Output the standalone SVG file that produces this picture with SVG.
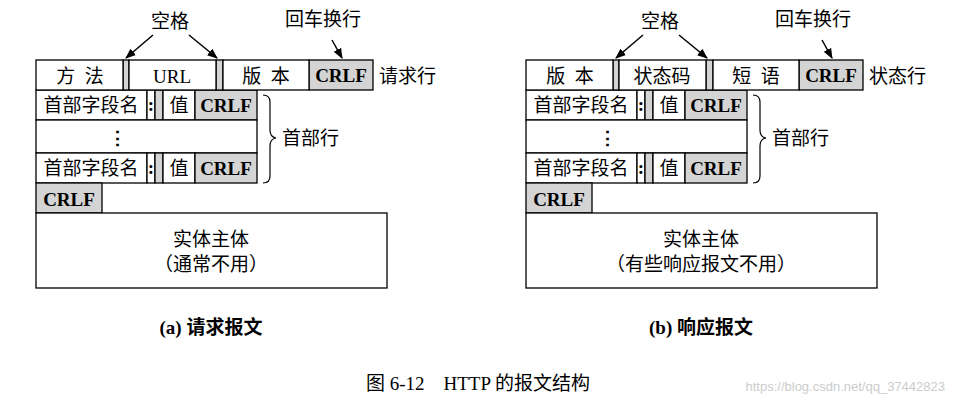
<svg xmlns="http://www.w3.org/2000/svg" width="956" height="404" viewBox="0 0 956 404">
<style>
.b{fill:#fff;stroke:#000;stroke-width:1.3}
.g{fill:#d4d4d4;stroke:#000;stroke-width:1.3}
text{font-family:"Liberation Serif","Noto Sans CJK SC",serif;font-size:19px;fill:#000;text-anchor:middle;white-space:pre}
.c{font-weight:bold;font-size:19px}
.l{text-anchor:start}
.a{stroke:#000;stroke-width:1.5;fill:none}
</style>
<defs>
<marker id="ar" viewBox="0 0 10 10" refX="9" refY="5" markerWidth="7" markerHeight="7" orient="auto"><path d="M0,1 L10,5 L0,9 z" fill="#000"/></marker>
<g id="panel">
<g id="headers">
<rect class="b" x="36" y="90" width="111" height="30"/><rect class="b" x="147" y="90" width="8" height="30"/><rect class="g" x="155" y="90" width="8" height="30"/><rect class="b" x="163" y="90" width="32" height="30"/><rect class="g" x="195" y="90" width="62" height="30"/>
<text x="91" y="112">首部字段名</text><text x="151" y="111" class="c">:</text><text x="179" y="112">值</text><text x="226" y="112" class="c">CRLF</text>
<rect class="b" x="36" y="120" width="221" height="33"/><text x="117" y="145" class="c">⋮</text>
<rect class="b" x="36" y="153" width="111" height="30"/><rect class="b" x="147" y="153" width="8" height="30"/><rect class="g" x="155" y="153" width="8" height="30"/><rect class="b" x="163" y="153" width="32" height="30"/><rect class="g" x="195" y="153" width="62" height="30"/>
<text x="91" y="175">首部字段名</text><text x="151" y="174" class="c">:</text><text x="179" y="175">值</text><text x="226" y="175" class="c">CRLF</text>
<path class="a" style="stroke-width:1.2" d="M263,95 Q270,95 270,102 L270,130 Q270,137 276,138 Q270,139 270,146 L270,176 Q270,183 263,183"/>
<text x="282" y="145" class="l">首部行</text>
<rect class="g" x="36" y="183" width="66" height="30"/><text x="69" y="206" class="c">CRLF</text>
<rect class="b" x="36" y="213" width="351" height="75"/>
<rect class="g" x="123" y="60" width="6" height="30"/><rect class="g" x="216" y="60" width="7" height="30"/>
<rect class="g" x="309" y="60" width="64" height="30"/><text x="341" y="82" class="c">CRLF</text>
<text x="170" y="28">空格</text><text x="323" y="26">回车换行</text>
</g>
</g>
</defs>
<g id="request">
<use href="#panel"/>
<rect class="b" x="36" y="60" width="87" height="30"/><text x="80" y="83">方  法</text>
<rect class="b" x="129" y="60" width="87" height="30"/><text x="172" y="83">URL</text>
<rect class="b" x="223" y="60" width="86" height="30"/><text x="266" y="83">版  本</text>
<text x="379" y="83" class="l">请求行</text>
<text x="211" y="246">实体主体</text><text x="211" y="271">（通常不用）</text>
<text x="211" y="334" style="font-weight:bold">(a) 请求报文</text>
</g>
<g id="response" transform="translate(490,0)">
<use href="#panel"/>
<rect class="b" x="36" y="60" width="87" height="30"/><text x="80" y="83">版  本</text>
<rect class="b" x="129" y="60" width="87" height="30"/><text x="172" y="83">状态码</text>
<rect class="b" x="223" y="60" width="86" height="30"/><text x="266" y="83">短  语</text>
<text x="379" y="83" class="l">状态行</text>
<text x="211" y="246">实体主体</text><text x="211" y="271">（有些响应报文不用）</text>
<text x="211" y="334" style="font-weight:bold">(b) 响应报文</text>
</g>
<g id="connectors">
<line class="a" x1="153" y1="35" x2="126" y2="58" marker-end="url(#ar)"/>
<line class="a" x1="189" y1="35" x2="217" y2="58" marker-end="url(#ar)"/>
<line class="a" x1="332" y1="40" x2="342" y2="58" marker-end="url(#ar)"/>
<line class="a" x1="643" y1="35" x2="616" y2="58" marker-end="url(#ar)"/>
<line class="a" x1="679" y1="35" x2="707" y2="58" marker-end="url(#ar)"/>
<line class="a" x1="822" y1="40" x2="832" y2="58" marker-end="url(#ar)"/>
</g>
<text x="478" y="390">图 6-12    HTTP 的报文结构</text>
<text x="945" y="391" style="font-family:'Liberation Sans',sans-serif;font-size:13px;fill:#ccc;text-anchor:end">https://blog.csdn.net/qq_37442823</text>
</svg>
